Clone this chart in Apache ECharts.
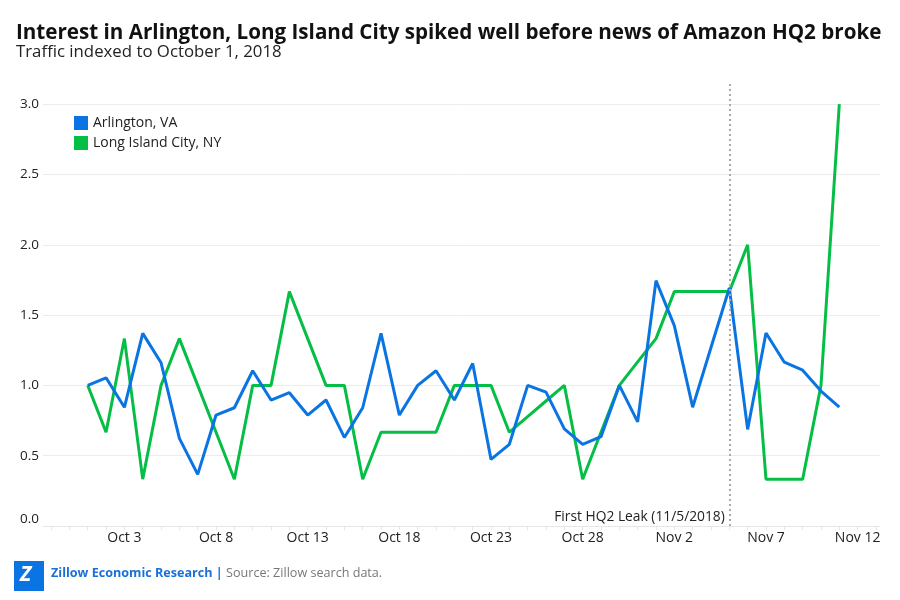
<!DOCTYPE html>
<html><head><meta charset="utf-8">
<script src="https://cdn.jsdelivr.net/npm/echarts@6/dist/echarts.min.js"></script>
<style>html,body{margin:0;padding:0;background:#fff}#c{width:900px;height:600px}</style>
</head><body><div id="c"></div>
<script>
const dates = ['2018-10-01','2018-10-02','2018-10-03','2018-10-04','2018-10-05','2018-10-06','2018-10-07',
  '2018-10-08','2018-10-09','2018-10-10','2018-10-11','2018-10-12','2018-10-13','2018-10-14',
  '2018-10-15','2018-10-16','2018-10-17','2018-10-18','2018-10-19','2018-10-20','2018-10-21',
  '2018-10-22','2018-10-23','2018-10-24','2018-10-25','2018-10-26','2018-10-27','2018-10-28',
  '2018-10-29','2018-10-30','2018-10-31','2018-11-01','2018-11-02','2018-11-03','2018-11-04',
  '2018-11-05','2018-11-06','2018-11-07','2018-11-08','2018-11-09','2018-11-10','2018-11-11'];
const arlington = [1.0, 1.054, 0.844, 1.37, 1.161, 0.623, 0.367, 0.789, 0.841, 1.104, 0.896, 0.948, 0.789, 0.896,
  0.630, 0.841, 1.37, 0.789, 1.0, 1.104, 0.896, 1.156, 0.474, 0.581, 1.0, 0.952, 0.691, 0.580,
  0.635, 1.0, 0.741, 1.745, 1.425, 0.845, 1.27, 1.693, 0.687, 1.373, 1.165, 1.108, 0.96, 0.845];
const longIslandCity = [1.0, 0.667, 1.333, 0.333, 1.0, 1.333, 1.0, 0.667, 0.333, 1.0, 1.0, 1.667, 1.333, 1.0,
  1.0, 0.333, 0.667, 0.667, 0.667, 0.667, 1.0, 1.0, 1.0, 0.667, 0.778, 0.889, 1.0, 0.333,
  0.667, 1.0, 1.167, 1.333, 1.667, 1.667, 1.667, 1.667, 2.0, 0.333, 0.333, 0.333, 1.0, 3.0];
const seriesNames = ['Arlington, VA', 'Long Island City, NY'];
const yTickValues = [0, 0.5, 1.0, 1.5, 2.0, 2.5, 3.0];
const xLabelDates = ['2018-10-03','2018-10-08','2018-10-13','2018-10-18','2018-10-23','2018-10-28','2018-11-02','2018-11-07','2018-11-12'];
const leakDate = '2018-11-05';
const leakLabel = 'First HQ2 Leak (11/5/2018)';
const titleText = 'Interest in Arlington, Long Island City spiked well before news of Amazon HQ2 broke';
const subtitleText = 'Traffic indexed to October 1, 2018';
const MONTHS = ['Jan','Feb','Mar','Apr','May','Jun','Jul','Aug','Sep','Oct','Nov','Dec'];

// x is expressed as a day offset from the first date (UTC arithmetic, no DST issues)
function dayNum(s){ const p = s.split('-').map(Number); return Date.UTC(p[0], p[1]-1, p[2]) / 86400000; }
const origin = dayNum(dates[0]);
function dayOf(s){ return dayNum(s) - origin; }
function labelOf(v){ const d = new Date((origin + v) * 86400000); return MONTHS[d.getUTCMonth()] + ' ' + d.getUTCDate(); }
const xTicks = [];
for (let d = -2; d <= 43; d++) xTicks.push(d);

const FONT = '"Open Sans", Lato, sans-serif';
// fit the title to the reference width
function fitSize(text, weight, family, targetW) {
  const c = document.createElement('canvas').getContext('2d');
  c.font = weight + ' 100px ' + family;
  return Math.min(22, 100 * targetW / c.measureText(text).width);
}
const titleSize = fitSize(titleText, 'bold', FONT, 866);

const chart = echarts.init(document.getElementById('c'), null, {renderer: 'canvas'});
chart.setOption({
  animation: false,
  backgroundColor: '#fff',
  textStyle: {fontFamily: FONT},
  title: [
    {text: titleText, left: 16, top: 23, padding: 0,
     textStyle: {fontFamily: FONT, fontSize: titleSize, fontWeight: 'bold', color: '#111'}},
    {text: subtitleText, left: 16, top: 44, padding: 0,
     textStyle: {fontFamily: FONT, fontSize: 16.8, fontWeight: 'normal', color: '#222'}}
  ],
  legend: {
    orient: 'vertical', left: 74, top: 116, padding: 0,
    itemWidth: 14, itemHeight: 14, itemGap: 6, icon: 'rect',
    textStyle: {fontFamily: FONT, fontSize: 14, color: '#222'},
    data: seriesNames
  },
  grid: {left: 43, right: 20, top: 81, bottom: 74, containLabel: false},
  xAxis: {
    type: 'value',
    min: -2.44,
    max: 43.22,
    axisLine: {show: true, lineStyle: {color: '#e6e6e6', width: 1}},
    axisTick: {show: true, length: 4, lineStyle: {color: '#e6e6e6'}, customValues: xTicks},
    splitLine: {show: false},
    axisLabel: {
      customValues: xLabelDates.map(dayOf),
      color: '#222', fontSize: 14, fontFamily: FONT, margin: 5,
      formatter: function (v) { return labelOf(v); }
    }
  },
  yAxis: {
    type: 'value', min: 0, max: 3.165,
    axisLine: {show: false},
    axisTick: {show: false, customValues: yTickValues},
    splitLine: {show: true, lineStyle: {color: '#ececec', width: 1}},
    axisLabel: {
      customValues: yTickValues,
      color: '#222', fontSize: 13.5, fontFamily: FONT, margin: 4,
      formatter: function (v) { return v === 0 ? '{z|0.0}' : v.toFixed(1); },
      rich: {z: {color: '#222', fontSize: 13.5, fontFamily: FONT, padding: [0, 0, 14, 0]}}
    }
  },
  series: [
    {
      name: seriesNames[0], type: 'line',
      data: dates.map((d, i) => [dayOf(d), arlington[i]]),
      showSymbol: false, symbol: 'none',
      lineStyle: {color: '#0a74e2', width: 3}, itemStyle: {color: '#0a74e2'},
      z: 3,
      markLine: {
        silent: true, symbol: 'none',
        lineStyle: {color: '#aaaaaa', type: [2, 3], width: 2},
        label: {show: false},
        data: [{xAxis: dayOf(leakDate)}]
      },
      markPoint: {
        silent: true, symbol: 'circle', symbolSize: 1,
        itemStyle: {color: 'rgba(0,0,0,0)'},
        label: {show: true, position: 'left', distance: 4, color: '#222', fontSize: 13.8, fontFamily: FONT,
                formatter: leakLabel},
        data: [{coord: [dayOf(leakDate), 0.06]}]
      }
    },
    {
      name: seriesNames[1], type: 'line',
      data: dates.map((d, i) => [dayOf(d), longIslandCity[i]]),
      showSymbol: false, symbol: 'none',
      lineStyle: {color: '#05be45', width: 3}, itemStyle: {color: '#05be45'},
      z: 2
    }
  ],
  graphic: [
    {type: 'rect', left: 14, top: 561, shape: {width: 30, height: 30}, style: {fill: '#0a74e2'}},
    {type: 'text', left: 20, top: 565, style: {text: 'Z', fill: '#fff', font: 'italic bold 21px ' + FONT}},
    {type: 'text', left: 51, top: 567, style: {
      rich: {
        a: {fill: '#1a6fd8', fontWeight: 'bold', fontSize: 12.6, fontFamily: FONT},
        b: {fill: '#777', fontSize: 12.6, fontFamily: FONT}
      },
      text: '{a|Zillow Economic Research | }{b|Source: Zillow search data.}'
    }}
  ]
});
</script></body></html>
